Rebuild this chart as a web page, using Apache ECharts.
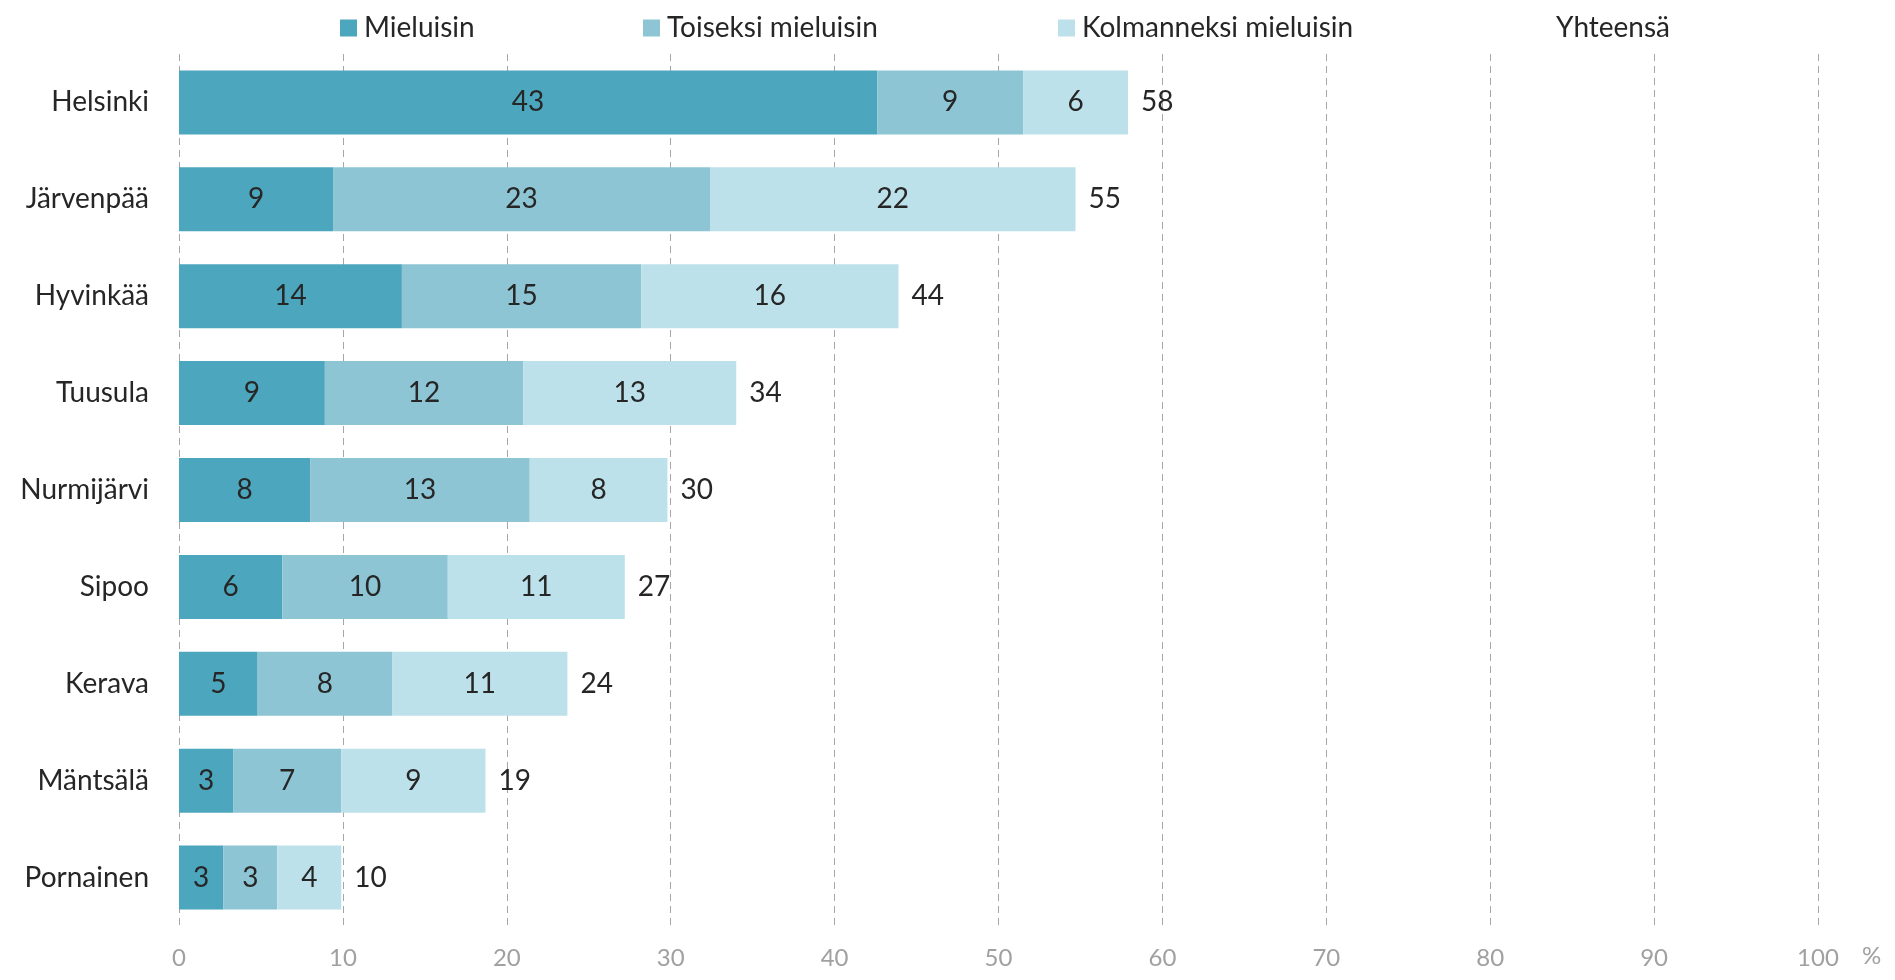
<!DOCTYPE html>
<html>
<head>
<meta charset="utf-8">
<style>
  html, body { margin: 0; padding: 0; background: #ffffff; }
  #chart { width: 1895px; height: 980px; }
</style>
<script src="https://cdn.jsdelivr.net/npm/echarts@6/dist/echarts.min.js"></script>
</head>
<body>
<div id="chart"></div>
<script>
// Kunnat (ylhäältä alas)
const categories = ['Helsinki', 'Järvenpää', 'Hyvinkää', 'Tuusula', 'Nurmijärvi', 'Sipoo', 'Kerava', 'Mäntsälä', 'Pornainen'];

// Osuudet, %
const mieluisin    = [42.6,  9.4, 13.6,  8.9,  8.0,  6.3,  4.8, 3.3, 2.7];
const toiseksi     = [ 8.9, 23.0, 14.6, 12.1, 13.4, 10.1,  8.2, 6.6, 3.3];
const kolmanneksi  = [ 6.4, 22.3, 15.7, 13.0,  8.4, 10.8, 10.7, 8.8, 3.9];

const seriesNames = ['Mieluisin', 'Toiseksi mieluisin', 'Kolmanneksi mieluisin', 'Yhteensä'];
const xTicks = [0, 10, 20, 30, 40, 50, 60, 70, 80, 90, 100];

const yhteensa = categories.map((_, i) =>
  Math.round((mieluisin[i] + toiseksi[i] + kolmanneksi[i]) * 10) / 10);

const FONT = 'Lato, "Noto Sans", sans-serif';
const TEXT = '#262626';
const AXIS_GREY = '#a0a0a0';
const colors = ['#4ca6bd', '#8dc5d4', '#bde1ea'];

const chart = echarts.init(document.getElementById('chart'), null, { renderer: 'canvas' });

const valueLabel = {
  show: true,
  position: 'inside',
  color: TEXT,
  fontFamily: FONT,
  fontSize: 28,
  formatter: p => Math.round(p.value)
};

function legendAt(name, left) {
  return {
    data: [name],
    left: left,
    top: 9,
    icon: 'rect',
    itemWidth: 17,
    itemHeight: 17,
    itemGap: 0,
    selectedMode: false,
    textStyle: { color: TEXT, fontFamily: FONT, fontSize: 28, padding: [0, 0, 0, 2] }
  };
}

chart.setOption({
  animation: false,
  textStyle: { fontFamily: FONT },
  legend: [
    legendAt(seriesNames[0], 335),
    legendAt(seriesNames[1], 638),
    legendAt(seriesNames[2], 1053),
    legendAt(seriesNames[3], 1527)
  ],
  grid: {
    left: 179, right: 77, top: 54, bottom: 54,
    containLabel: false,
    outerBoundsMode: 'none'
  },
  xAxis: {
    type: 'value',
    min: 0,
    max: 100,
    interval: 10,
    name: '%',
    nameLocation: 'end',
    nameGap: 44,
    nameTextStyle: {
      color: AXIS_GREY, fontFamily: FONT, fontSize: 24,
      verticalAlign: 'top', lineHeight: 60
    },
    axisLine: { show: false },
    axisTick: { show: false },
    axisLabel: {
      color: AXIS_GREY,
      fontFamily: FONT,
      fontSize: 24,
      margin: 20,
      customValues: xTicks
    },
    splitLine: {
      show: true,
      showMinLine: true,
      showMaxLine: true,
      lineStyle: { color: '#a6a6a6', width: 1, type: [7, 5] }
    }
  },
  yAxis: {
    type: 'category',
    data: categories,
    inverse: true,
    axisLine: { show: false },
    axisTick: { show: false },
    axisLabel: { color: TEXT, fontFamily: FONT, fontSize: 28, margin: 30 },
    splitLine: { show: false }
  },
  series: [
    {
      name: seriesNames[0], type: 'bar', stack: 'osuus', data: mieluisin,
      barWidth: 64, itemStyle: { color: colors[0] }, label: valueLabel, silent: true
    },
    {
      name: seriesNames[1], type: 'bar', stack: 'osuus', data: toiseksi,
      barWidth: 64, itemStyle: { color: colors[1] }, label: valueLabel, silent: true
    },
    {
      name: seriesNames[2], type: 'bar', stack: 'osuus', data: kolmanneksi,
      barWidth: 64, itemStyle: { color: colors[2] }, label: valueLabel, silent: true
    },
    {
      name: seriesNames[3], type: 'bar', data: yhteensa,
      barWidth: 64, barGap: '-100%', z: 1, silent: true,
      itemStyle: { color: 'rgba(0,0,0,0)' },
      label: {
        show: true,
        position: 'right',
        distance: 13,
        color: TEXT,
        fontFamily: FONT,
        fontSize: 28,
        formatter: p => Math.round(p.value)
      }
    }
  ]
});
</script>
</body>
</html>
